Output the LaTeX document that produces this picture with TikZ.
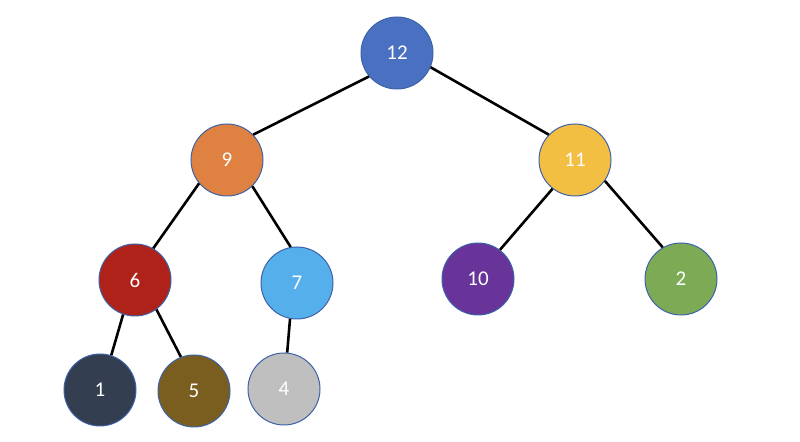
\documentclass[tikz,border=0pt]{standalone}
\usepackage{fontspec}
\setmainfont{Carlito}
\definecolor{c12}{HTML}{4A70C2}
\definecolor{c9}{HTML}{DF8141}
\definecolor{c11}{HTML}{F3BF42}
\definecolor{c6}{HTML}{AE2219}
\definecolor{c7}{HTML}{55AFEA}
\definecolor{c10}{HTML}{68349A}
\definecolor{c2}{HTML}{7DAA55}
\definecolor{c1}{HTML}{333F50}
\definecolor{c5}{HTML}{7A5E1F}
\definecolor{c4}{HTML}{BFBFBF}
\definecolor{rim}{HTML}{3E62A8}
\begin{document}
\begin{tikzpicture}[x=0.5pt,y=-0.5pt,
  heapnode/.style={circle,draw=rim,line width=0.5pt,minimum size=36pt,inner sep=0pt,text=white,font=\fontsize{10.5}{11}\selectfont},
  edge/.style={line width=1.3pt,black}]
\useasboundingbox (0,0) rectangle (800,442);
\node[heapnode,fill=c12] (n12) at (397,53) {12};
\node[heapnode,fill=c9] (n9) at (227,160) {9};
\node[heapnode,fill=c11] (n11) at (575,160) {11};
\node[heapnode,fill=c6] (n6) at (135,280) {6};
\node[heapnode,fill=c7] (n7) at (297,283) {7};
\node[heapnode,fill=c10] (n10) at (478,279) {10};
\node[heapnode,fill=c2] (n2) at (681,279) {2};
\node[heapnode,fill=c1] (n1) at (100,390) {1};
\node[heapnode,fill=c5] (n5) at (194,391) {5};
\node[heapnode,fill=c4] (n4) at (284,389) {4};
\draw[edge] (n12.220) -- (n9.44);
\draw[edge] (n12.337) -- (n11.136);
\draw[edge] (n9.220) -- (n6.60);
\draw[edge] (n9.314) -- (n7.100);
\draw[edge] (n11.232) -- (n10.53);
\draw[edge] (n11.325) -- (n2.120);
\draw[edge] (n6.251) -- (n1.72);
\draw[edge] (n6.306) -- (n5.111);
\draw[edge] (n7.259) -- (n4.85);
\end{tikzpicture}
\end{document}
